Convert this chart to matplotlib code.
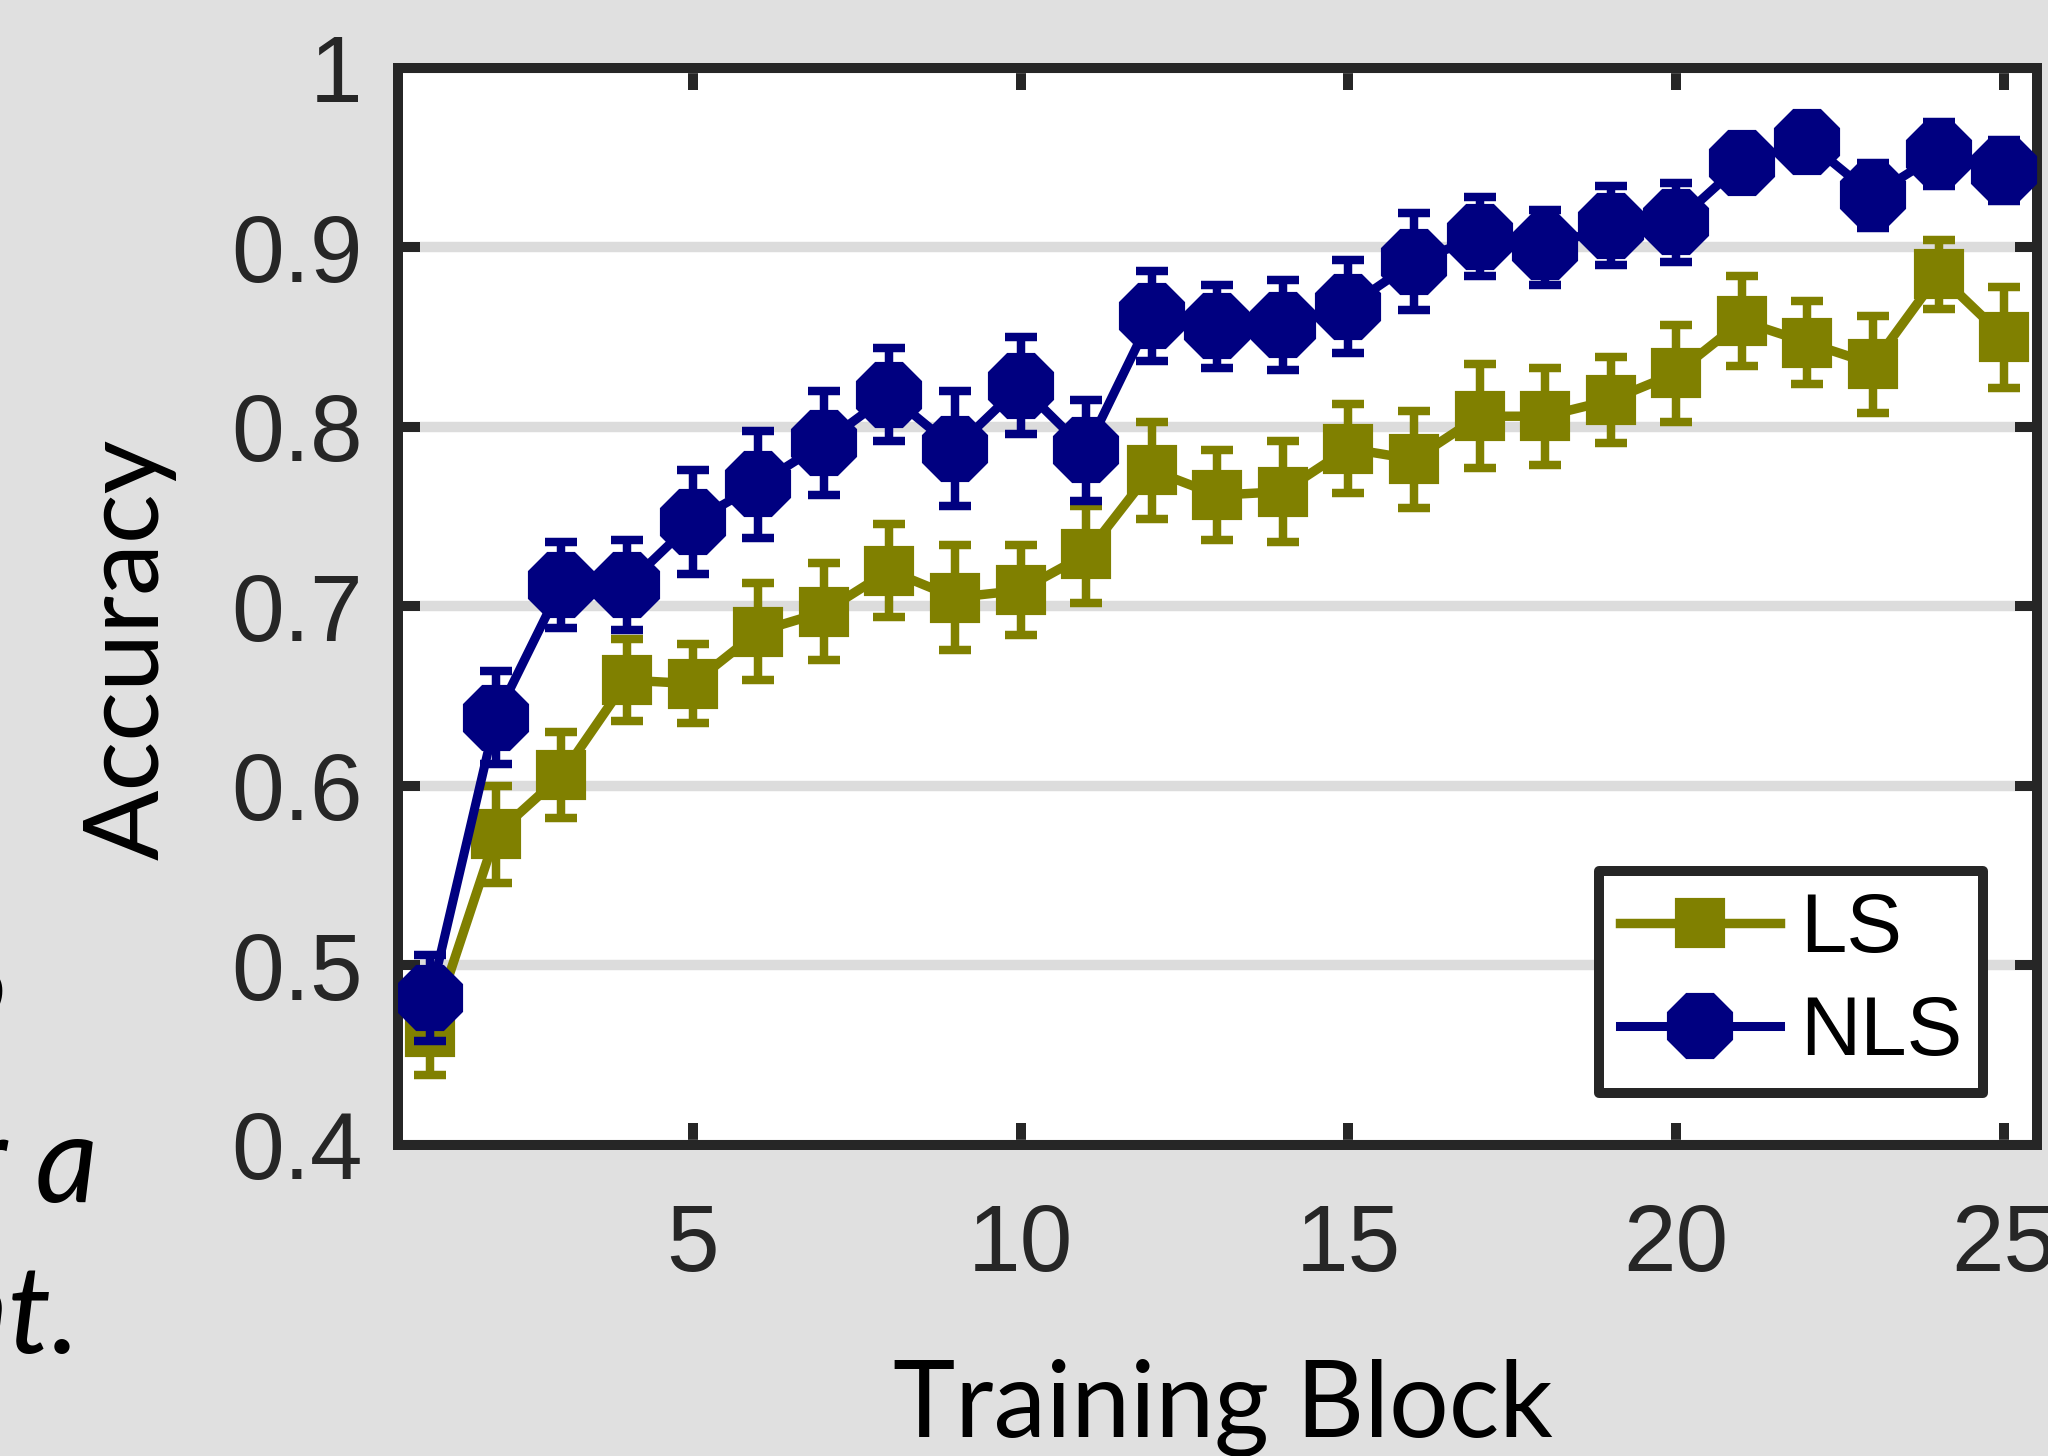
import matplotlib
matplotlib.use("Agg")
import matplotlib.pyplot as plt
import numpy as np

blocks = np.arange(1, 26)

ls_acc = [0.463, 0.573, 0.606, 0.659, 0.657, 0.686, 0.697, 0.720, 0.705, 0.709,
          0.729, 0.776, 0.762, 0.764, 0.788, 0.782, 0.806, 0.806, 0.815, 0.830,
          0.859, 0.847, 0.835, 0.885, 0.850]
ls_err = [0.024, 0.027, 0.024, 0.023, 0.022, 0.027, 0.027, 0.026, 0.029, 0.025,
          0.027, 0.027, 0.025, 0.028, 0.025, 0.027, 0.029, 0.027, 0.024, 0.027,
          0.025, 0.023, 0.027, 0.019, 0.028]

nls_acc = [0.482, 0.638, 0.712, 0.712, 0.747, 0.768, 0.791, 0.818, 0.788, 0.823,
           0.787, 0.862, 0.856, 0.857, 0.867, 0.892, 0.906, 0.900, 0.912, 0.914,
           0.947, 0.959, 0.929, 0.952, 0.943]
nls_err = [0.024, 0.026, 0.024, 0.025, 0.029, 0.030, 0.029, 0.026, 0.032, 0.027,
           0.028, 0.025, 0.023, 0.025, 0.026, 0.027, 0.022, 0.021, 0.022, 0.022,
           0.012, 0.012, 0.018, 0.018, 0.017]

xticks = [5, 10, 15, 20, 25]
yticks = [0.4, 0.5, 0.6, 0.7, 0.8, 0.9, 1.0]
ytick_labels = ['0.4', '0.5', '0.6', '0.7', '0.8', '0.9', '1']

dark = '#262626'
bg = '#e0e0e0'

plt.rcParams['font.family'] = ['Liberation Sans', 'DejaVu Sans']

fig = plt.figure(figsize=(20.48, 14.56), dpi=100, facecolor=bg)
ax = fig.add_axes([0.1941, 0.2136, 0.99463 - 0.1941, 0.9533 - 0.2136])
ax.set_facecolor('white')

ls = ax.errorbar(blocks, ls_acc, yerr=ls_err, fmt='-s', color='#808000',
                 lw=6.8, ms=33, mec='#808000', mfc='#808000',
                 elinewidth=6.1, capsize=11.2, capthick=6.1, zorder=3)
nls = ax.errorbar(blocks, nls_acc, yerr=nls_err, fmt='-8', color='#000080',
                  lw=6.5, ms=48, mec='#000080', mfc='#000080',
                  elinewidth=6.1, capsize=11.2, capthick=6.1, zorder=4)
for line in (ls[0], nls[0]):
    line.set_solid_joinstyle('round')
    line.set_markeredgewidth(3)

ax.set_xlim(0.5, 25.5)
ax.set_ylim(0.4, 1.0)
ax.set_xticks(xticks)
ax.set_yticks(yticks)
ax.set_yticklabels(ytick_labels)

ax.yaxis.grid(True, color='#dcdcdc', lw=7.5)
ax.set_axisbelow(True)

for s in ax.spines.values():
    s.set_linewidth(7.2)
    s.set_color(dark)

ax.tick_params(direction='in', length=16, width=7.2, color=dark,
               labelcolor=dark, labelsize=68, top=True, right=True)
ax.tick_params(axis='x', pad=41)
ax.tick_params(axis='y', pad=25)

leg = ax.legend([ls[0], nls[0]], ['LS', 'NLS'], loc='lower right',
                bbox_to_anchor=(0.967, 0.048), borderaxespad=0, fontsize=60,
                handlelength=1.92, handletextpad=0.24, borderpad=0.25,
                labelspacing=0.3, fancybox=False, framealpha=1,
                edgecolor=dark, numpoints=1)
leg.get_frame().set_linewidth(7.2)
leg.get_frame().set_joinstyle('round')

fig.text(129.5 / 2048, 1 - 649.5 / 1456, 'Accuracy', rotation=90,
         ha='center', va='center', fontsize=75, family='Lato', color='black')
fig.text(1223 / 2048, 1 - 1437 / 1456, 'Training Block', ha='center',
         va='baseline', fontsize=76, family='Lato', color='black')

# caption text from the page that runs under the left edge
fig.text(8 / 2048, 1 - 1023 / 1456, 'S', ha='right', va='baseline',
         fontsize=106, family='Lato', color='black')
fig.text(98 / 2048, 1 - 1202 / 1456, 'r a', ha='right', va='baseline',
         fontsize=88, family='Lato', style='italic', color='black')
fig.text(80 / 2048, 1 - 1353 / 1456, 'nt.', ha='right', va='baseline',
         fontsize=88, family='Lato', style='italic', color='black')

fig.savefig('out.png', dpi=100, facecolor=bg)
